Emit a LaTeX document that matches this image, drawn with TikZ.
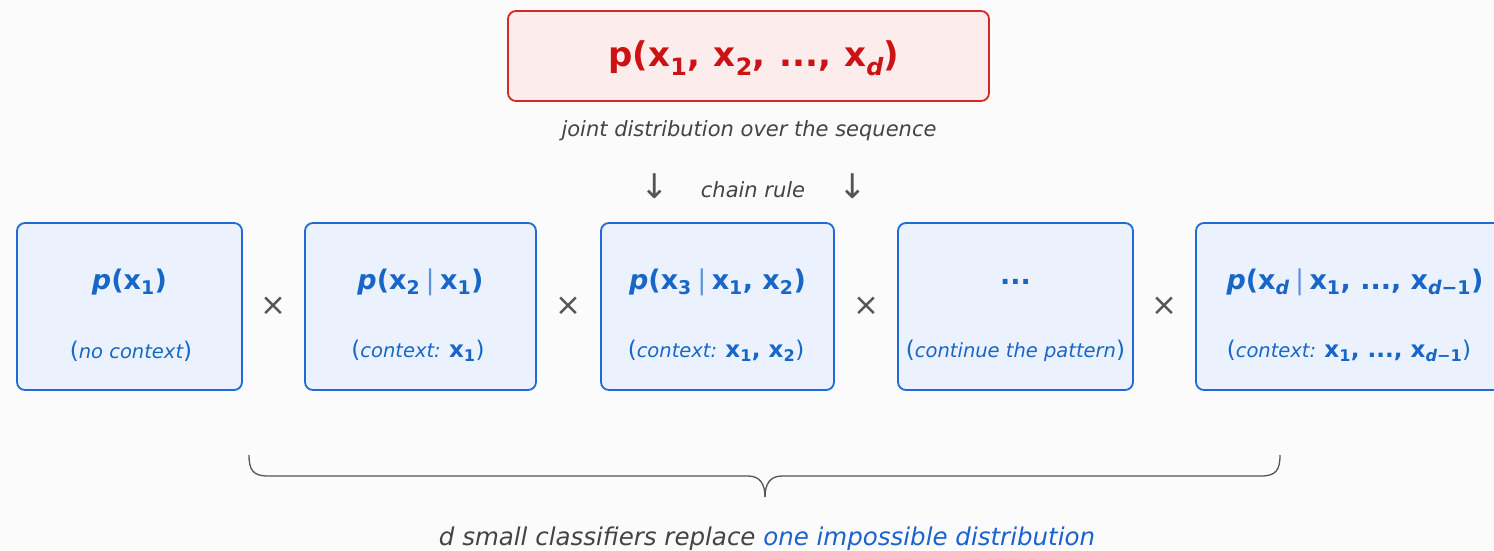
\documentclass[tikz,border=0pt]{standalone}
\usepackage{fontspec}
\usetikzlibrary{calc}
\setmainfont{DejaVu Sans}
\definecolor{bg}{HTML}{FBFBFC}
\definecolor{redline}{HTML}{D42A26}
\definecolor{redfill}{HTML}{FDECEC}
\definecolor{redtext}{HTML}{CC1212}
\definecolor{blueline}{HTML}{1F6AD4}
\definecolor{bluefill}{HTML}{EBF2FD}
\definecolor{bluetext}{HTML}{1766C8}
\definecolor{notegray}{HTML}{444444}
\definecolor{signgray}{HTML}{555555}
\definecolor{accent}{HTML}{1A62D2}
% variables with subscripts
\newcommand\vx[1]{x\textsubscript{#1}}
\newcommand\given{\hspace{0.2em}{\mdseries\color{bluetext!70}|}\hspace{0.2em}}
% bold variables inside the context lines, set a little larger
\newcommand\ctxvars[1]{{\upshape\bfseries\fontsize{23}{26}\selectfont #1}}
\newcommand\bigparen[1]{{\upshape\fontsize{23}{26}\selectfont #1}}
\begin{document}
\begin{tikzpicture}[x=1pt,y=-1pt,
  redbox/.style={draw=redline, fill=redfill, line width=1.8pt, rounded corners=8pt},
  bluebox/.style={draw=blueline, fill=bluefill, line width=1.8pt, rounded corners=8pt,
                  minimum height=167pt},
  formula/.style={text=bluetext, font=\fontsize{27}{30}\selectfont\bfseries, inner sep=0pt},
  ctx/.style={text=bluetext, font=\fontsize{19.5}{22}\selectfont\itshape, inner sep=0pt},
  timesign/.style={text=signgray, font=\fontsize{31}{33}\selectfont, inner sep=0pt},
  note/.style={text=notegray, font=\fontsize{21}{24}\selectfont\itshape, inner sep=0pt},
  downarrow/.style={text=signgray, font=\fontsize{34}{36}\selectfont, inner sep=0pt},
  brace/.style={draw=signgray, line width=1.3pt},
]
\useasboundingbox (0,0) rectangle (1494,550);
\clip (0,0) rectangle (1494,550);
\fill[bg] (0,0) rectangle (1494,550);

% joint distribution
\node[redbox, minimum width=481pt, minimum height=90pt] (joint) at (748.5,56) {};
\node[text=redtext, font=\fontsize{34}{38}\selectfont\bfseries, inner sep=0pt] (jointf)
  at (754,58.5) {p(\vx{1},\hspace{0.05em} \vx{2},\hspace{0.05em} ...,\hspace{0.05em} x\textsubscript{\itshape d})};
\node[note] (jointnote) at (749,131) {joint distribution over the sequence};

% chain rule
\node[downarrow] (arrL) at (655,186) {↓};
\node[downarrow] (arrR) at (853,186) {↓};
\node[note] (chain) at (753,190) {chain rule};

% factors
\node[bluebox, minimum width=225pt] (b1) at (129.5,306.5) {};
\node[bluebox, minimum width=231pt] (b2) at (420.5,306.5) {};
\node[bluebox, minimum width=233pt] (b3) at (717.5,306.5) {};
\node[bluebox, minimum width=235pt] (b4) at (1015.5,306.5) {};
\node[bluebox, minimum width=320pt] (b5) at (1356,306.5) {};

\node[formula] (f1) at (129.5,282) {\itshape p\upshape(\vx{1})};
\node[formula] (f2) at (420.5,282) {\itshape p\upshape(\vx{2}\given\vx{1})};
\node[formula] (f3) at (717.5,282) {\itshape p\upshape(\vx{3}\given\vx{1}, \vx{2})};
\node[formula] (f4) at (1015.5,282) {...};
\node[formula] (f5) at (1355,282)
  {\itshape p\upshape(x\textsubscript{\itshape d}\given\vx{1}, ..., x\textsubscript{\itshape d\upshape −1})};

\node[ctx] (c1) at (131,351) {\bigparen(no context\bigparen)};
\node[ctx] (c2) at (418,351) {\bigparen(context: \ctxvars{\vx{1}}\bigparen)};
\node[ctx] (c3) at (716,351) {\bigparen(context: \ctxvars{\vx{1}, \vx{2}}\bigparen)};
\node[ctx] (c4) at (1015.5,351) {\bigparen(continue the pattern\bigparen)};
\node[ctx] (c5) at (1349,351)
  {\bigparen(context: \ctxvars{\vx{1}, ..., x\textsubscript{\itshape d\upshape −1}}\bigparen)};

% product signs
\node[timesign] (t1) at ($(b1.east)!0.5!(b2.west)$) {×};
\node[timesign] (t2) at ($(b2.east)!0.5!(b3.west)$) {×};
\node[timesign] (t3) at ($(b3.east)!0.5!(b4.west)$) {×};
\node[timesign] (t4) at ($(b4.east)!0.5!(b5.west)$) {×};

% brace under the factors
\coordinate (braceL) at (249,455);
\coordinate (braceR) at (1280,455);
\coordinate (braceTip) at (765,497);
\draw[brace] (braceL) .. controls (249,470) and (253,476) .. (268,476) -- (748,476)
  .. controls (760,476) and (765,484) .. (braceTip);
\draw[brace] (braceR) .. controls (1280,470) and (1276,476) .. (1261,476) -- (782,476)
  .. controls (770,476) and (765,484) .. (braceTip);

\node[inner sep=0pt, font=\fontsize{24.5}{28}\selectfont\itshape, text=notegray] (summary)
  at (767,539) {d small classifiers replace \textcolor{accent}{one impossible distribution}};
\end{tikzpicture}
\end{document}
